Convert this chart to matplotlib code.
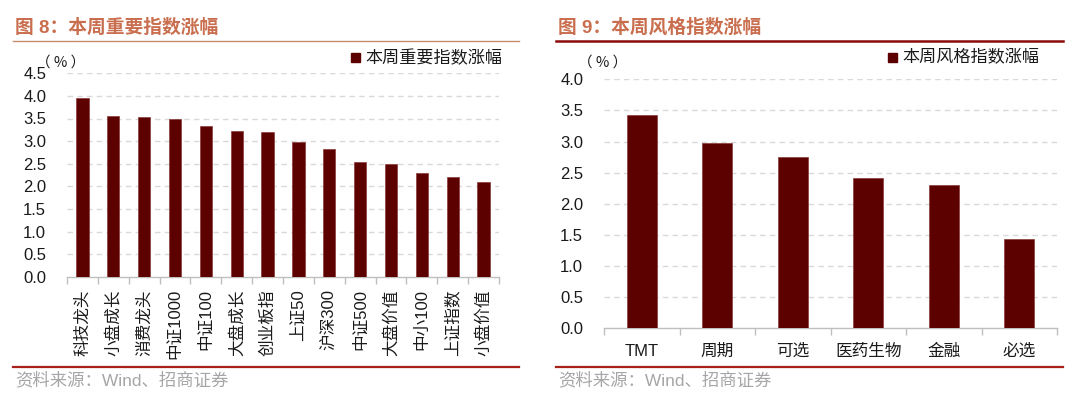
import matplotlib
matplotlib.use("Agg")
import matplotlib.pyplot as plt
from matplotlib.patches import Rectangle
from matplotlib.lines import Line2D

plt.rcParams['font.family'] = ['Liberation Sans', 'Noto Sans CJK SC']
plt.rcParams['axes.unicode_minus'] = False

# 数据
zhishu = ['科技龙头', '小盘成长', '消费龙头', '中证1000', '中证100', '大盘成长', '创业板指',
          '上证50', '沪深300', '中证500', '大盘价值', '中小100', '上证指数', '小盘价值']
zhishu_zf = [3.96, 3.55, 3.54, 3.48, 3.33, 3.22, 3.20, 2.97, 2.82, 2.53, 2.50, 2.29, 2.21, 2.09]

fengge = ['TMT', '周期', '可选', '医药生物', '金融', '必选']
fengge_zf = [3.42, 2.97, 2.76, 2.41, 2.31, 1.43]

W, H = 1080, 397
BAR = '#5C0000'
TITLE_C = '#C96E4E'
GRID_C = '#D9D9D9'
AXIS_C = '#BFBFBF'


def px(x, y):
    # pixelove souradnice (od leveho horniho rohu) -> zlomek figury
    return x / W, 1 - y / H


def panel(fig, rect, kategorie, hodnoty, ymax, rotace, label_pad):
    ax = fig.add_axes(rect)
    x = range(len(kategorie))
    ax.bar(x, hodnoty, width=0.4, color=BAR, edgecolor='#8A3A3A', linewidth=0.5, zorder=3)
    ax.set_xlim(-0.5, len(kategorie) - 0.5)
    ax.set_ylim(0, ymax)
    yt = [i * 0.5 for i in range(int(ymax / 0.5) + 1)]
    ax.set_yticks(yt)
    ax.set_yticklabels([f'{v:.1f}' for v in yt], fontsize=12, color='#1a1a1a')
    for v in yt[1:]:
        ax.axhline(v, color=GRID_C, lw=1, ls=(0, (4, 3)), zorder=1)
    ax.set_xticks(list(x))
    ax.set_xticklabels(kategorie, rotation=rotace, fontsize=12, color='#1a1a1a')
    ax.set_xticks([i - 0.5 for i in range(len(kategorie) + 1)], minor=True)
    ax.tick_params(axis='x', which='major', length=0, pad=label_pad)
    ax.tick_params(axis='x', which='minor', length=5, color=AXIS_C, width=1)
    ax.tick_params(axis='y', length=0, pad=15)
    for s in ['top', 'right', 'left']:
        ax.spines[s].set_visible(False)
    ax.spines['bottom'].set_color(AXIS_C)
    ax.spines['bottom'].set_linewidth(1)
    return ax


def hlavicka(fig, x0, x1, titulek, legenda, leg_x, linka_c, linka_w):
    fx, fy = px(x0 + 2, 28)
    fig.text(fx, fy, titulek, fontsize=13.5, fontweight='bold', color=TITLE_C, va='center', ha='left')
    a, ya = px(x0, 41)
    b, _ = px(x1, 41)
    fig.add_artist(Line2D([a, b], [ya, ya], color=linka_c, lw=linka_w))
    # legenda
    sx, sy = px(leg_x, 62)
    fig.add_artist(Rectangle((sx, sy), 9 / W, 9 / H, color=BAR, transform=fig.transFigure))
    tx, ty = px(leg_x + 14, 57.5)
    fig.text(tx, ty, legenda, fontsize=12.3, color='#1a1a1a', va='center', ha='left')
    # spodni linka + zdroj
    a, yb = px(x0, 367)
    b, _ = px(x1, 367)
    fig.add_artist(Line2D([a, b], [yb, yb], color='#A8201A', lw=1.6))
    zx, zy = px(x0 + 2, 380)
    fig.text(zx, zy, '资料来源：Wind、招商证券', fontsize=12.5, color='#A6A6A6', va='center', ha='left')


fig = plt.figure(figsize=(W / 100, H / 100), dpi=100)

# levy graf
l, b = px(67, 276.7)
ax1 = panel(fig, [l, b, 432 / W, 203.4 / H], zhishu, zhishu_zf, 4.5, 90, 9)
ux, uy = px(61, 63)
fig.text(ux, uy, '（ % ）', fontsize=10.5, color='#1a1a1a', ha='center', va='center',
         family=['Noto Sans CJK SC', 'DejaVu Sans'])
hlavicka(fig, 13, 519, '图 8：本周重要指数涨幅', '本周重要指数涨幅', 351, '#C98A72', 1.0)

# pravy graf
l, b = px(604, 328.4)
ax2 = panel(fig, [l, b, 453 / W, 249.1 / H], fengge, fengge_zf, 4.0, 0, 11)
ux, uy = px(603, 63)
fig.text(ux, uy, '（ % ）', fontsize=10.5, color='#1a1a1a', ha='center', va='center',
         family=['Noto Sans CJK SC', 'DejaVu Sans'])
hlavicka(fig, 556, 1063, '图 9：本周风格指数涨幅', '本周风格指数涨幅', 888, '#8B0A0A', 1.8)

fig.savefig('out.png', dpi=100)
